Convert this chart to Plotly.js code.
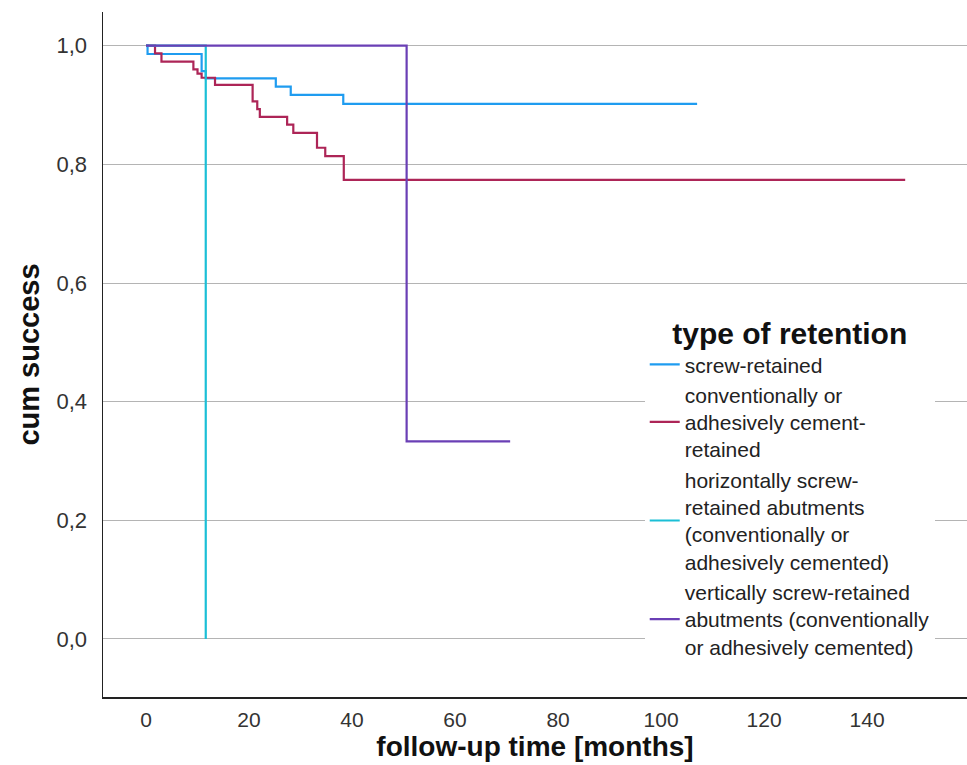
<!DOCTYPE html>
<html>
<head>
<meta charset="utf-8">
<script src="https://cdn.plot.ly/plotly-3.0.1.min.js"></script>
<style>html,body{margin:0;padding:0;background:#fff;}#chart{width:967px;height:765px;}</style>
</head>
<body>
<div id="chart"></div>
<script>
// Series names
const seriesNames = [
  "screw-retained",
  "conventionally or<br>adhesively cement-<br>retained",
  "horizontally screw-<br>retained abutments<br>(conventionally or<br>adhesively cemented)",
  "vertically screw-retained<br>abutments (conventionally<br>or adhesively cemented)"
];
// Kaplan-Meier step points (months, cumulative success)
const screwX = [0, 0.3, 10.8, 11.6, 25.2, 28.1, 38.3, 107];
const screwY = [1, 0.986, 0.957, 0.945, 0.931, 0.917, 0.902, 0.902];

const cementX = [0, 1.75, 3.0, 9.2, 10.0, 10.8, 13.4, 20.7, 21.6, 22.1, 27.4, 28.6, 33.2, 34.8, 38.4, 147.4];
const cementY = [1, 0.987, 0.973, 0.960, 0.953, 0.946, 0.934, 0.906, 0.893, 0.880, 0.867, 0.853, 0.828, 0.814, 0.774, 0.774];

const horizX = [0, 11.6];
const horizY = [1, 0];

const vertX = [0, 50.6, 70.7];
const vertY = [1, 0.333, 0.333];

const xTicks = [0, 20, 40, 60, 80, 100, 120, 140];
const yTicks = [0, 0.2, 0.4, 0.6, 0.8, 1.0];

const colors = ["#1f9cf0", "#ad2557", "#1bbfd6", "#6a3fb5"];

const xs = [screwX, cementX, horizX, vertX];
const ys = [screwY, cementY, horizY, vertY];

const traces = xs.map((x, i) => ({
  x: x, y: ys[i], name: seriesNames[i], type: "scatter", mode: "lines",
  line: {shape: "hv", color: colors[i], width: 2.2},
  hoverinfo: "x+y"
}));

const layout = {
  width: 967, height: 765,
  margin: {l: 103, r: 0, t: 12, b: 68},
  paper_bgcolor: "#fff", plot_bgcolor: "#fff",
  separators: ", ",
  showlegend: true,
  font: {family: "Liberation Sans, Arial, sans-serif", color: "#222"},
  xaxis: {
    range: [-8.35, 159.4],
    tickvals: xTicks,
    showgrid: false, zeroline: false,
    showline: true, linecolor: "#222", linewidth: 1.5,
    ticks: "", ticklabelstandoff: 3,
    tickfont: {family: "Liberation Sans, Arial, sans-serif", size: 21, color: "#333"},
    title: {text: "follow-up time [months]", standoff: 6,
      font: {family: "Liberation Sans, Arial, sans-serif", size: 28, color: "#111", weight: "bold"}}
  },
  yaxis: {
    range: [-0.0978, 1.0568],
    tickvals: yTicks,
    tickformat: ".1f",
    showgrid: true, gridcolor: "#b4b4b4", gridwidth: 1,
    zeroline: false,
    showline: true, linecolor: "#222", linewidth: 1.5,
    ticks: "", ticklabelstandoff: 10,
    tickfont: {family: "Liberation Sans, Arial, sans-serif", size: 22, color: "#333"},
    title: {text: "cum success", standoff: 8,
      font: {family: "Liberation Sans, Arial, sans-serif", size: 29, color: "#111", weight: "bold"}}
  },
  legend: {
    x: 0.627, xanchor: "left", y: 0.572, yanchor: "top",
    bgcolor: "#fff", borderwidth: 0,
    font: {family: "Liberation Sans, Arial, sans-serif", size: 21, color: "#222"},
    title: {text: "type of retention", side: "top center",
      font: {family: "Liberation Sans, Arial, sans-serif", size: 30, color: "#111", weight: "bold"}},
    tracegroupgap: 0, itemwidth: 30
  }
};

Plotly.newPlot("chart", traces, layout, {displayModeBar: false, staticPlot: true});
</script>
</body>
</html>
